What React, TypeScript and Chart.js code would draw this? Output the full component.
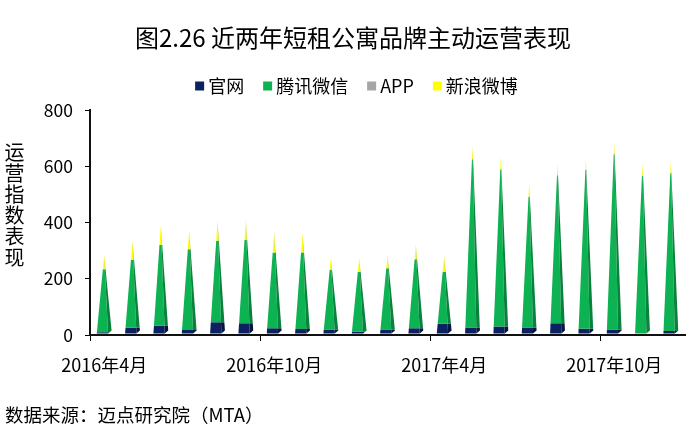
import React, { useEffect, useRef } from "react";
import { Chart, registerables } from "chart.js";

Chart.register(...registerables);

const TITLE = "图2.26 近两年短租公寓品牌主动运营表现";
const Y_TITLE = "运营指数表现";
const SOURCE = "数据来源：迈点研究院（MTA）";

const MONTHS = [
  "2016年4月", "2016年5月", "2016年6月", "2016年7月", "2016年8月", "2016年9月",
  "2016年10月", "2016年11月", "2016年12月", "2017年1月", "2017年2月", "2017年3月",
  "2017年4月", "2017年5月", "2017年6月", "2017年7月", "2017年8月", "2017年9月",
  "2017年10月", "2017年11月", "2017年12月",
];

const SERIES_NAMES = ["官网", "腾讯微信", "APP", "新浪微博"];

const GUANWANG = [10, 26, 33, 18, 45, 42, 24, 21, 20, 12, 20, 24, 40, 27, 30, 27, 42, 22, 20, 2, 14];
const WEIXIN = [224, 241, 287, 287, 290, 296, 269, 272, 211, 213, 217, 245, 185, 598, 559, 465, 526, 565, 623, 564, 561];
const APP = [0, 0, 0, 0, 0, 0, 0, 0, 0, 0, 0, 0, 0, 0, 0, 0, 0, 0, 0, 0, 0];
const WEIBO = [50, 68, 71, 66, 70, 71, 71, 71, 42, 48, 47, 51, 55, 48, 47, 47, 41, 37, 42, 45, 43];

const Y_TICKS = [0, 200, 400, 600, 800];

const FRONT_COLORS = ["#0c2162", "#0db253", "#a5a5a5", "#ffff00"];
const SIDE_COLORS = ["#06153f", "#07833b", "#7d7d7d", "#cfcf00"];

const FONT = '"Noto Sans CJK SC", "Noto Sans", sans-serif';

const pyramidPlugin = {
  id: "pyramids",
  beforeDatasetsDraw(chart: any) {
    const ctx = chart.ctx;
    const n = chart.data.labels.length;
    const metas = chart.data.datasets.map((_: any, d: number) => chart.getDatasetMeta(d));
    const zeroY = chart.scales.y.getPixelForValue(0);
    const area = chart.chartArea;
    ctx.save();
    ctx.beginPath();
    ctx.rect(area.left, area.top - 2, area.right - area.left, area.bottom - area.top + 2);
    ctx.clip();
    for (let i = 0; i < n; i++) {
      const first = metas[0].data[i];
      const x = first.x;
      const w = first.width;
      let topY = zeroY;
      metas.forEach((m: any) => {
        const el = m.data[i];
        if (el && el.y < topY) topY = el.y;
      });
      const yb = zeroY - 1.5;
      const dx = 3.5;
      const dy = 3;
      const fl = x - w / 2 - dx / 2;
      const fr = x + w / 2 - dx / 2;
      const ax = (fl + fr) / 2 + dx / 2;
      metas.forEach((m: any, d: number) => {
        const el = m.data[i];
        if (!el) return;
        const top = Math.min(el.y, el.base);
        const bottom = Math.max(el.y, el.base);
        if (bottom - top < 0.01) return;
        ctx.save();
        ctx.beginPath();
        ctx.rect(fl - 3, top, fr + dx - fl + 6, bottom - top + (Math.abs(el.base - zeroY) < 0.5 ? 3 : 0));
        ctx.clip();
        ctx.fillStyle = FRONT_COLORS[d];
        ctx.beginPath();
        ctx.moveTo(fl, yb);
        ctx.lineTo(fr, yb);
        ctx.lineTo(ax, topY);
        ctx.closePath();
        ctx.fill();
        ctx.fillStyle = SIDE_COLORS[d];
        ctx.beginPath();
        ctx.moveTo(fr, yb);
        ctx.lineTo(fr + dx, yb - dy);
        ctx.lineTo(ax, topY);
        ctx.closePath();
        ctx.fill();
        ctx.restore();
      });
    }
    ctx.restore();
    return false;
  },
};

const textPlugin = {
  id: "texts",
  afterDraw(chart: any) {
    const ctx = chart.ctx;
    ctx.save();
    ctx.fillStyle = "#000";
    // title
    ctx.font = `24px ${FONT}`;
    ctx.textAlign = "center";
    ctx.textBaseline = "middle";
    ctx.fillText(TITLE, 353, 38);

    // legend
    ctx.font = `18px ${FONT}`;
    const box = 9;
    const gapText = 4;
    const gapItem = 19;
    const items = chart.data.datasets.map((ds: any) => ({
      text: ds.label,
      color: ds.backgroundColor,
      w: ctx.measureText(ds.label).width,
    }));
    let total = 0;
    items.forEach((it: any, k: number) => {
      total += box + gapText + it.w + (k < items.length - 1 ? gapItem : 0);
    });
    let cx = 356.5 - total / 2;
    const ly = 86;
    ctx.textAlign = "left";
    items.forEach((it: any) => {
      ctx.fillStyle = it.color;
      ctx.fillRect(cx, ly - box / 2, box, box);
      ctx.fillStyle = "#000";
      ctx.fillText(it.text, cx + box + gapText, ly);
      cx += box + gapText + it.w + gapItem;
    });

    // y title (upright stacked characters)
    ctx.font = `20px ${FONT}`;
    ctx.textAlign = "center";
    Array.from(Y_TITLE).forEach((ch, k) => {
      ctx.fillText(ch, 14.5, 152.5 + k * 21);
    });

    // source
    ctx.font = `18.5px ${FONT}`;
    ctx.textAlign = "left";
    ctx.fillText(SOURCE, 5, 415);
    ctx.restore();
  },
};

export default function App() {
  const ref = useRef<HTMLCanvasElement | null>(null);
  useEffect(() => {
    if (!ref.current) return;
    const seriesValues = [GUANWANG, WEIXIN, APP, WEIBO];
    const chart = new Chart(ref.current, {
      type: "bar",
      data: {
        labels: MONTHS,
        datasets: SERIES_NAMES.map((name, d) => ({
          label: name,
          data: seriesValues[d],
          backgroundColor: FRONT_COLORS[d],
          borderWidth: 0,
          categoryPercentage: 1,
          barPercentage: 0.4,
        })),
      },
      options: {
        responsive: false,
        animation: false,
        layout: { padding: { top: 110, left: 0, right: 8, bottom: 49 } },
        plugins: {
          legend: { display: false },
          title: { display: false },
          tooltip: { enabled: false },
        },
        scales: {
          x: {
            stacked: true,
            offset: true,
            afterFit(scale: any) {
              scale.height = 45;
            },
            grid: {
              offset: true,
              drawOnChartArea: false,
              drawTicks: true,
              tickLength: 6,
              lineWidth: 1,
              color: (c: any) => (typeof c.index === "number" && c.index % 6 === 0 ? "#000" : "rgba(0,0,0,0)"),
            },
            border: { display: true, color: "#111", width: 2 },
            ticks: {
              autoSkip: false,
              maxRotation: 0,
              minRotation: 0,
              padding: 13,
              color: "#000",
              font: { family: FONT, size: 18 },
              callback: (_v: any, idx: number) => (idx % 6 === 0 ? MONTHS[idx] : ""),
            },
          },
          y: {
            stacked: true,
            min: Y_TICKS[0],
            max: Y_TICKS[Y_TICKS.length - 1],
            afterFit(scale: any) {
              scale.width = 90;
            },
            afterBuildTicks(scale: any) {
              scale.ticks = Y_TICKS.map((v) => ({ value: v }));
            },
            grid: {
              drawOnChartArea: false,
              drawTicks: true,
              tickLength: 5,
              color: "#000",
              lineWidth: 1,
            },
            border: { display: true, color: "#111", width: 2 },
            ticks: {
              padding: 12,
              color: "#000",
              font: { family: FONT, size: 17.5 },
            },
          },
        },
      },
      plugins: [pyramidPlugin, textPlugin],
    } as any);
    return () => chart.destroy();
  }, []);
  return (
    <div style={{ position: "absolute", left: 0, top: 0, width: 693, height: 429, background: "#fff" }}>
      <canvas ref={ref} width={693} height={429} style={{ width: 693, height: 429, display: "block" }} />
    </div>
  );
}
